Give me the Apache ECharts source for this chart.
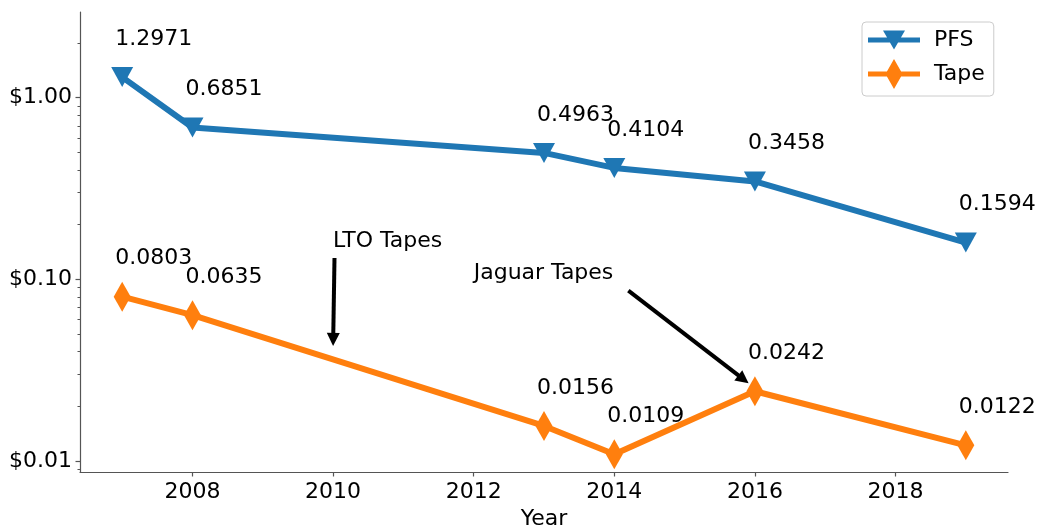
<!DOCTYPE html>
<html>
<head>
<meta charset="utf-8">
<title>Storage cost per GB</title>
<script src="https://cdn.jsdelivr.net/npm/echarts@6/dist/echarts.min.js"></script>
<style>
  html, body { margin: 0; padding: 0; background: #fff; }
  #chart { width: 1043px; height: 529px; }
</style>
</head>
<body>
<div id="chart"></div>
<script>
// Cost per GB by year, for parallel file system storage and tape
const years = [2007, 2008, 2013, 2014, 2016, 2019];
const pfsCost = [1.2971, 0.6851, 0.4963, 0.4104, 0.3458, 0.1594];
const tapeCost = [0.0803, 0.0635, 0.0156, 0.0109, 0.0242, 0.0122];

// Axis ticks
const yearTicks = [2008, 2010, 2012, 2014, 2016, 2018];
const costTicks = [0.01, 0.1, 1];
const costMinorTicks = [0.009, 0.02, 0.03, 0.04, 0.05, 0.06, 0.07, 0.08, 0.09,
                        0.2, 0.3, 0.4, 0.5, 0.6, 0.7, 0.8, 0.9, 2];

// Annotations (data coordinates): text baseline anchor, arrow tail, arrow tip
const noteTexts = ['LTO Tapes', 'Jaguar Tapes'];
const noteAnchors = [[2010, 0.15], [2012, 0.1]];
const arrowTails = [[2010.02, 0.131], [2014.2, 0.0867]];
const arrowTips = [[2010, 0.043], [2015.91, 0.0268]];

const FONT = 'DejaVu Sans';
const FS = 22;
const BLUE = '#1f77b4';
const ORANGE = '#ff7f0e';
const AXIS = '#555555';

const chart = echarts.init(document.getElementById('chart'), null, { renderer: 'canvas' });

function pointSeries(name, values, color, symbol, size, rotate) {
  return {
    name: name,
    type: 'line',
    data: years.map((y, i) => [y, values[i]]),
    symbol: symbol,
    symbolSize: size,
    symbolRotate: rotate,
    showAllSymbol: true,
    lineStyle: { color: color, width: 6 },
    itemStyle: { color: color, borderWidth: 0 },
    label: {
      show: true,
      position: 'inside',
      align: 'left',
      verticalAlign: 'middle',
      offset: [-7, -38],
      color: '#000',
      fontFamily: FONT,
      fontSize: FS,
      formatter: p => p.value[1].toFixed(4)
    },
    emphasis: { disabled: true },
    z: 3
  };
}

const option = {
  animation: false,
  backgroundColor: '#fff',
  grid: { left: 80, right: 35, top: 12, bottom: 57, containLabel: false, outerBoundsMode: 'none' },
  xAxis: {
    type: 'value',
    min: 2006.4,
    max: 2019.6,
    name: 'Year',
    nameLocation: 'middle',
    nameGap: 33,
    nameTextStyle: { color: '#000', fontFamily: FONT, fontSize: FS },
    axisLine: { lineStyle: { color: AXIS, width: 1.2 } },
    axisTick: { customValues: yearTicks, length: 4.5, lineStyle: { color: AXIS, width: 1.2 } },
    axisLabel: {
      customValues: yearTicks,
      margin: 9,
      color: '#000',
      fontFamily: FONT,
      fontSize: FS,
      formatter: v => String(v)
    },
    splitLine: { show: false }
  },
  yAxis: [
    {
      type: 'log',
      logBase: 10,
      min: 0.0087,
      max: 2.96,
      axisLine: { show: true, lineStyle: { color: AXIS, width: 1.2 } },
      axisTick: { show: true, customValues: costTicks, length: 4.5, lineStyle: { color: AXIS, width: 1.2 } },
      axisLabel: {
        customValues: costTicks,
        margin: 8,
        color: '#000',
        fontFamily: FONT,
        fontSize: FS,
        formatter: v => '$' + Number(v).toFixed(2)
      },
      splitLine: { show: false }
    },
    {
      type: 'log',
      logBase: 10,
      min: 0.0087,
      max: 2.96,
      position: 'left',
      offset: 0,
      axisLine: { show: false },
      axisTick: { show: true, customValues: costMinorTicks, length: 2.5, lineStyle: { color: AXIS, width: 1 } },
      axisLabel: { show: true, customValues: costMinorTicks, formatter: () => '' },
      splitLine: { show: false }
    }
  ],
  legend: {
    left: 862,
    top: 22,
    orient: 'vertical',
    padding: [3, 9, 7, 6],
    itemGap: 4,
    itemWidth: 52,
    itemHeight: 30,
    selectedMode: false,
    backgroundColor: 'rgba(255,255,255,0.8)',
    borderColor: '#cccccc',
    borderWidth: 1,
    borderRadius: 4,
    itemStyle: { borderWidth: 0 },
    textStyle: { color: '#000', fontFamily: FONT, fontSize: FS, padding: [0, 0, 0, 9] },
    data: [
      { name: 'PFS', icon: 'path://M0,0L0,0M0,12.5L52,12.5L52,17.5L0,17.5ZM15,5.5L37,5.5L26,24.5ZM52,30L52,30' },
      { name: 'Tape', icon: 'path://M0,0L0,0M0,12.5L52,12.5L52,17.5L0,17.5ZM26,0L34.5,15L26,30L17.5,15ZM52,30L52,30' }
    ]
  },
  series: [
    pointSeries('PFS', pfsCost, BLUE, 'triangle', [22, 20], 180),
    pointSeries('Tape', tapeCost, ORANGE, 'diamond', [17, 30], 0),
    {
      // annotation arrows
      type: 'custom',
      silent: true,
      data: arrowTails.map((t, i) => [t[0], t[1], arrowTips[i][0], arrowTips[i][1]]),
      encode: { x: [0, 2], y: [1, 3] },
      z: 5,
      renderItem: function (params, api) {
        const p0 = api.coord([api.value(0), api.value(1)]);
        const p1 = api.coord([api.value(2), api.value(3)]);
        const dx = p1[0] - p0[0], dy = p1[1] - p0[1];
        const len = Math.hypot(dx, dy);
        const ux = dx / len, uy = dy / len;
        const hl = 13, hw = 6.5;
        const bx = p1[0] - ux * hl, by = p1[1] - uy * hl;
        return {
          type: 'group',
          children: [
            { type: 'line', shape: { x1: p0[0], y1: p0[1], x2: bx + ux, y2: by + uy },
              style: { stroke: '#000', lineWidth: 4 } },
            { type: 'polygon', shape: { points: [[p1[0], p1[1]], [bx - uy * hw, by + ux * hw], [bx + uy * hw, by - ux * hw]] },
              style: { fill: '#000' } }
          ]
        };
      }
    },
    {
      // annotation texts
      type: 'custom',
      silent: true,
      data: noteAnchors.map(a => [a[0], a[1]]),
      z: 5,
      renderItem: function (params, api) {
        const p = api.coord([api.value(0), api.value(1)]);
        return {
          type: 'text',
          x: p[0],
          y: p[1] + 5,
          style: {
            text: noteTexts[params.dataIndex],
            fill: '#000',
            font: FS + 'px "' + FONT + '"',
            textAlign: 'left',
            textVerticalAlign: 'bottom'
          }
        };
      }
    }
  ]
};

chart.setOption(option);
</script>
</body>
</html>
